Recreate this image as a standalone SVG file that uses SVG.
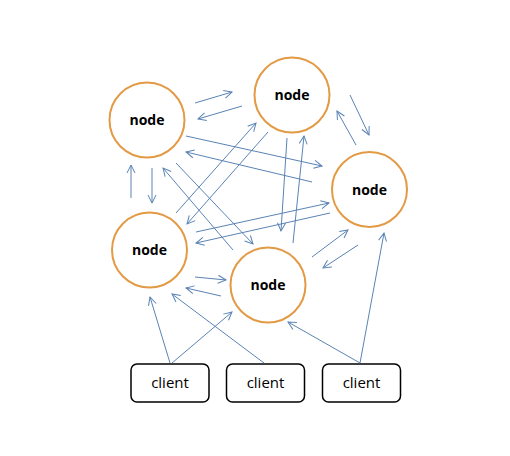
<svg xmlns="http://www.w3.org/2000/svg" width="510" height="456" viewBox="0 0 510 456">
<defs>
<marker id="ah" markerUnits="userSpaceOnUse" markerWidth="10" markerHeight="10" refX="8" refY="4" orient="auto" overflow="visible">
<path d="M0,0 L8,4 L0,8" fill="none" stroke="#5a83b5" stroke-width="1"/>
</marker>
</defs>
<style>
.n{fill:#fff;stroke:#e39a45;stroke-width:2}
.nt{font-family:"Open Sans","Noto Sans",sans-serif;font-weight:bold;font-size:14px;fill:#000;text-anchor:middle}
.c{fill:#fff;stroke:#000;stroke-width:1.5}
.ct{font-family:"Open Sans","Noto Sans",sans-serif;font-size:15px;fill:#000;text-anchor:middle}
.e line{stroke:#5a83b5;stroke-width:1;marker-end:url(#ah)}
</style>
<rect width="510" height="456" fill="#fff"/>
<g id="nodeA"><circle class="n" cx="147" cy="120" r="37.5"/><text class="nt" x="147" y="125">node</text></g>
<g id="nodeB"><circle class="n" cx="292" cy="95" r="37.5"/><text class="nt" x="292" y="100">node</text></g>
<g id="nodeC"><circle class="n" cx="369.5" cy="189.5" r="37.5"/><text class="nt" x="369.5" y="194.5">node</text></g>
<g id="nodeD"><circle class="n" cx="149.5" cy="250" r="37.5"/><text class="nt" x="149.5" y="255">node</text></g>
<g id="nodeE"><circle class="n" cx="268" cy="285" r="37.5"/><text class="nt" x="268" y="290">node</text></g>
<g id="client1"><rect class="c" x="131" y="364" width="78" height="38" rx="6"/><text class="ct" x="170" y="388">client</text></g>
<g id="client2"><rect class="c" x="226.5" y="364" width="78" height="38" rx="6"/><text class="ct" x="265.5" y="388">client</text></g>
<g id="client3"><rect class="c" x="322.5" y="364" width="78" height="38" rx="6"/><text class="ct" x="361.5" y="388">client</text></g>
<g id="connectors" class="e">
<line x1="195" y1="103" x2="232" y2="92"/>
<line x1="242" y1="106" x2="198" y2="119"/>
<line x1="350" y1="95" x2="369" y2="135"/>
<line x1="356" y1="145" x2="337" y2="111"/>
<line x1="312" y1="257" x2="348" y2="230"/>
<line x1="358" y1="245" x2="323" y2="268"/>
<line x1="131" y1="198" x2="131" y2="165"/>
<line x1="152" y1="168" x2="152" y2="203"/>
<line x1="186" y1="136" x2="322" y2="166"/>
<line x1="312" y1="182" x2="186" y2="152"/>
<line x1="176" y1="213" x2="256" y2="123"/>
<line x1="268" y1="132" x2="187" y2="224"/>
<line x1="176" y1="163" x2="253" y2="244"/>
<line x1="233" y1="250" x2="163" y2="168"/>
<line x1="287" y1="138" x2="281" y2="231"/>
<line x1="293" y1="243" x2="304" y2="136"/>
<line x1="196" y1="232" x2="329" y2="203"/>
<line x1="330" y1="213" x2="196" y2="243"/>
<line x1="195" y1="277" x2="226" y2="280"/>
<line x1="221" y1="296" x2="186" y2="288"/>
<line x1="170" y1="363" x2="150" y2="297"/>
<line x1="172" y1="363" x2="232" y2="312"/>
<line x1="264" y1="363" x2="172" y2="294"/>
<line x1="360" y1="363" x2="288" y2="322"/>
<line x1="360" y1="363" x2="384" y2="233"/>
</g>
</svg>
